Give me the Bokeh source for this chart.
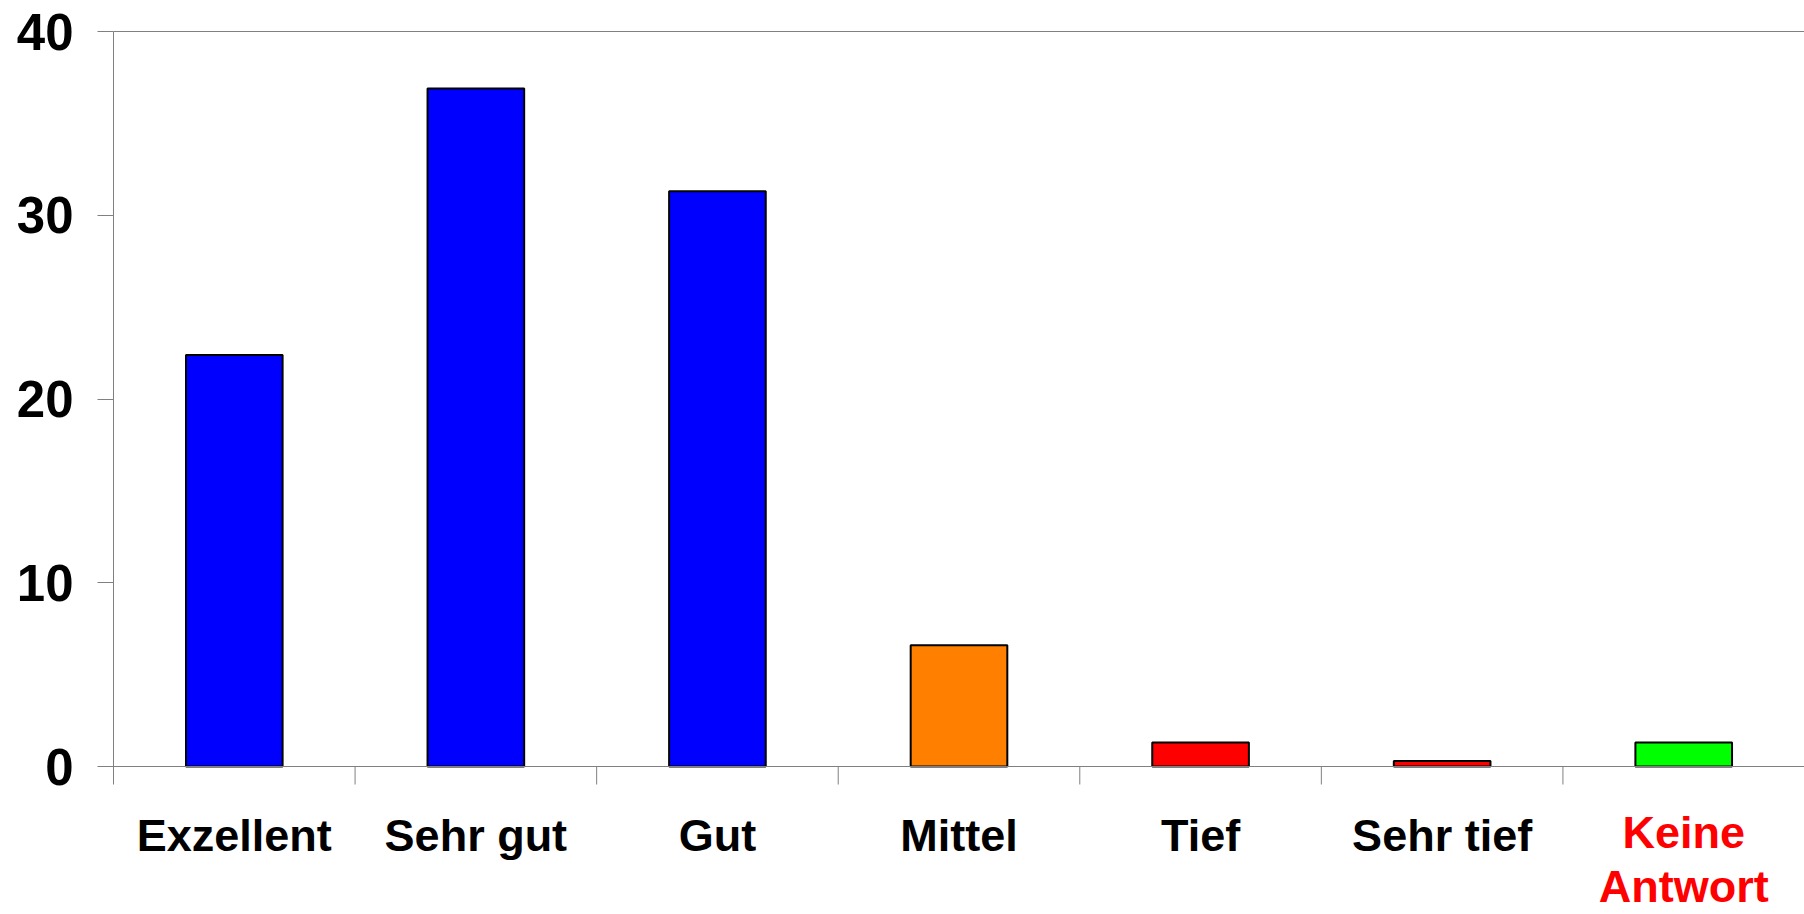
from bokeh.plotting import figure
from bokeh.models import Range1d, FixedTicker, Span, ColumnDataSource
from bokeh.core.properties import value
from bokeh.embed import file_html
from bokeh.resources import INLINE

categories = ["Exzellent", "Sehr gut", "Gut", "Mittel", "Tief", "Sehr tief", "Keine Antwort"]
values = [22.4, 36.9, 31.3, 6.6, 1.3, 0.3, 1.3]
colors = ["#0000FF", "#0000FF", "#0000FF", "#FF8000", "#FF0000", "#FF0000", "#00FF00"]
label_colors = ["black", "black", "black", "black", "black", "black", "#FF0000"]
y_ticks = [0, 10, 20, 30, 40]

FONT = "Liberation Sans"
GRAY = "#808080"

W, H = 1804, 914
frame_top = 30          # px from figure top
zero_px = 766           # px of value 0 from figure top
top_px = 31             # px of value 40
scale = (zero_px - top_px) / 40.0   # px per unit
y_end = 40 + (top_px - frame_top) / scale
y_start = -(H - zero_px) / scale
tick_len = 18 / scale

n = len(categories)
p = figure(width=W, height=H, output_backend="svg", toolbar_location=None,
           x_range=Range1d(0, n), y_range=Range1d(y_start, y_end),
           min_border_left=113, min_border_right=0, min_border_top=frame_top, min_border_bottom=0)
p.outline_line_color = None
p.grid.visible = False
p.xaxis.visible = False
p.background_fill_color = "white"
p.border_fill_color = "white"

xs = [i + 0.5 for i in range(n)]
src = ColumnDataSource(dict(x=xs, top=values, color=colors))
p.vbar(x="x", top="top", bottom=0, width=0.4, source=src,
       fill_color="color", line_color="black", line_width=2)

# y axis
ya = p.yaxis[0]
ya.ticker = FixedTicker(ticks=y_ticks)
ya.bounds = (-tick_len, 40)
ya.axis_line_color = GRAY
ya.major_tick_line_color = GRAY
ya.major_tick_out = 16
ya.major_tick_in = 0
ya.minor_tick_line_color = None
ya.major_label_text_font = FONT
ya.major_label_text_font_style = "bold"
ya.major_label_text_font_size = "51px"
ya.major_label_text_color = "black"
ya.major_label_standoff = 24

# frame lines: top border and x axis line
p.add_layout(Span(location=40, dimension="width", line_color=GRAY, line_width=1))
p.add_layout(Span(location=0, dimension="width", line_color=GRAY, line_width=1))

# category boundary ticks
bounds_x = list(range(1, n + 1))
p.segment(x0=bounds_x, x1=bounds_x, y0=[0] * len(bounds_x), y1=[-tick_len] * len(bounds_x),
          line_color=GRAY, line_width=1)

# category labels
lx, ly, lt, lc = [], [], [], []
for x, name, col in zip(xs, categories, label_colors):
    if len(name) > 10:
        parts = name.split(" ")
        offs = [66, 120]
    else:
        parts = [name]
        offs = [69]
    for part, off in zip(parts, offs):
        lx.append(x)
        ly.append(-off / scale)
        lt.append(part)
        lc.append(col)
p.text(x=lx, y=ly, text=lt, text_color=lc, text_align="center", text_baseline="alphabetic",
       text_font=value(FONT), text_font_style="bold", text_font_size="45px")

open("out.html", "w").write(file_html(p, INLINE))
